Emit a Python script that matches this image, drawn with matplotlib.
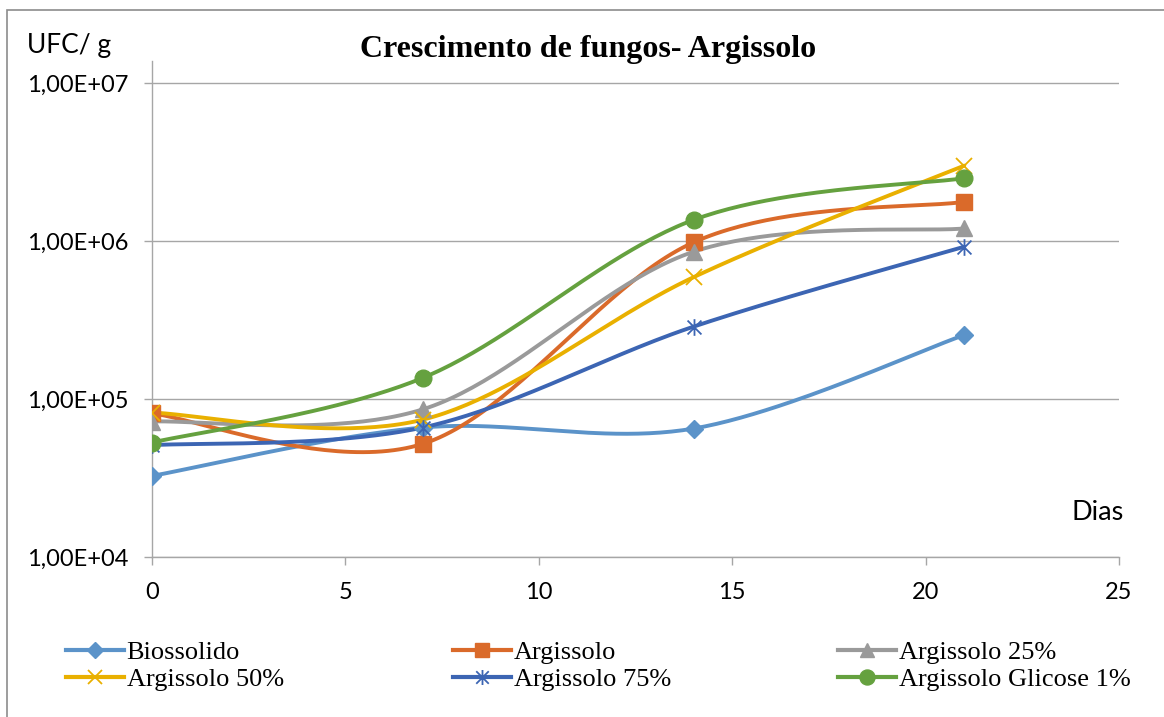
import numpy as np
import matplotlib
matplotlib.use('Agg')
import matplotlib.pyplot as plt
from matplotlib.path import Path
from matplotlib.lines import Line2D
from matplotlib.ticker import FixedLocator, FuncFormatter, NullLocator
from matplotlib.patches import Rectangle

# ---- data ----
dias = [0, 7, 14, 21]
biossolido = [3.26e4, 6.6e4, 6.5e4, 2.54e5]
argissolo = [8.1e4, 5.2e4, 9.8e5, 1.77e6]
argissolo_25 = [7.2e4, 8.6e4, 8.55e5, 1.2e6]
argissolo_50 = [8.2e4, 7.4e4, 5.9e5, 3.0e6]
argissolo_75 = [5.1e4, 6.6e4, 2.87e5, 9.2e5]
argissolo_glicose = [5.3e4, 1.36e5, 1.36e6, 2.5e6]

series_names = ["Biossolido", "Argissolo", "Argissolo 25%",
                "Argissolo 50%", "Argissolo 75%", "Argissolo Glicose 1%"]
series_values = [biossolido, argissolo, argissolo_25,
                 argissolo_50, argissolo_75, argissolo_glicose]
x_ticks = [0, 5, 10, 15, 20, 25]
y_ticks = [1e4, 1e5, 1e6, 1e7]

# ---- styles ----
star = Path([(-1, -1), (1, 1), (-1, 1), (1, -1), (0, -1.2), (0, 1.2)],
            [Path.MOVETO, Path.LINETO, Path.MOVETO, Path.LINETO, Path.MOVETO, Path.LINETO])
colors = ['#5B93C9', '#DA6A2A', '#9A9A9A', '#E9B000', '#3C65B3', '#65A13F']
markers = ['D', 's', '^', 'x', star, 'o']
msizes = [9, 11, 11, 11, 12, 12]
mew = [1, 1, 1, 1.3, 1.3, 1]

def smooth(x, y, n=50):
    pts = np.column_stack([np.asarray(x, float), np.log10(np.asarray(y, float))])
    P = np.vstack([pts[0], pts, pts[-1]])
    out = []
    t = np.linspace(0, 1, n)[:, None]
    for i in range(1, len(P) - 2):
        p0, p1, p2, p3 = P[i - 1], P[i], P[i + 1], P[i + 2]
        c1 = p1 + (p2 - p0) / 6.0
        c2 = p2 - (p3 - p1) / 6.0
        b = (1 - t) ** 3 * p1 + 3 * (1 - t) ** 2 * t * c1 + 3 * (1 - t) * t ** 2 * c2 + t ** 3 * p2
        out.append(b if i == 1 else b[1:])
    arr = np.vstack(out)
    return arr[:, 0], 10 ** arr[:, 1]

W, H = 1164, 717
fig = plt.figure(figsize=(W / 100, H / 100), dpi=100)
ax = fig.add_axes([152 / W, 1 - 557 / H, (1119 - 152) / W, (557 - 61) / H])

for vals, c, m, ms, mw in zip(series_values, colors, markers, msizes, mew):
    sx, sy = smooth(dias, vals)
    ax.plot(sx, sy, color=c, lw=2.8, solid_capstyle='round', zorder=3)
    ax.plot(dias, vals, linestyle='none', marker=m, markersize=ms, color=c,
            markeredgecolor=c, markeredgewidth=mw, zorder=4)

ax.set_yscale('log')
ax.set_xlim(0, 25)
ax.set_ylim(1e4, 10 ** (7 + 22 / 158))
ax.xaxis.set_major_locator(FixedLocator(x_ticks))
ax.yaxis.set_major_locator(FixedLocator(y_ticks))
ax.yaxis.set_minor_locator(NullLocator())
ax.yaxis.set_major_formatter(FuncFormatter(lambda v, p: f"{v:.2E}".replace('.', ',')))
ax.grid(axis='y', color='#A6A6A6', lw=1.0, zorder=0)
for s in ['top', 'right']:
    ax.spines[s].set_visible(False)
for s in ['left', 'bottom']:
    ax.spines[s].set_color('#A6A6A6')
    ax.spines[s].set_linewidth(1.0)
ax.tick_params(axis='both', direction='out', length=6, width=1, color='#A6A6A6',
               labelsize=17, labelcolor='black')
ax.tick_params(axis='y', pad=11)
ax.tick_params(axis='x', pad=12)
for lab in ax.get_xticklabels() + ax.get_yticklabels():
    lab.set_family('Lato')

fig.text(27 / W, 1 - 45 / H, "UFC/ g", family='Lato', fontsize=19, va='center', ha='left')
fig.text(1098 / W, 1 - 513 / H, "Dias", family='Lato', fontsize=19.5, va='center', ha='center')
fig.text(588 / W, 1 - 50 / H, "Crescimento de fungos- Argissolo", family='Liberation Serif',
         fontweight='bold', fontsize=23, ha='center', va='center')

# outer chart border
fig.patches.append(Rectangle((7 / W, -0.1), 1.2, 1 - 10 / H + 0.1, transform=fig.transFigure,
                             fill=False, edgecolor='#8C8C8C', lw=1.2))

# legend in three columns
handles = [Line2D([], [], color=c, lw=3, marker=m, markersize=ms * 0.9, markeredgecolor=c,
                  markeredgewidth=mw) for c, m, ms, mw in zip(colors, markers, msizes, mew)]
col_x = [66, 453, 838]
col_items = [(0, 3), (1, 4), (2, 5)]
for cx, (a, b) in zip(col_x, col_items):
    fig.legend([handles[a], handles[b]], [series_names[a], series_names[b]],
               loc='upper left', bbox_to_anchor=(cx / W, 1 - 641 / H),
               frameon=False, borderpad=0, borderaxespad=0, handlelength=2.2,
               handletextpad=0.1, labelspacing=0.12,
               prop={'family': 'Liberation Serif', 'size': 19})

fig.savefig('out.png', dpi=100, facecolor='white')
